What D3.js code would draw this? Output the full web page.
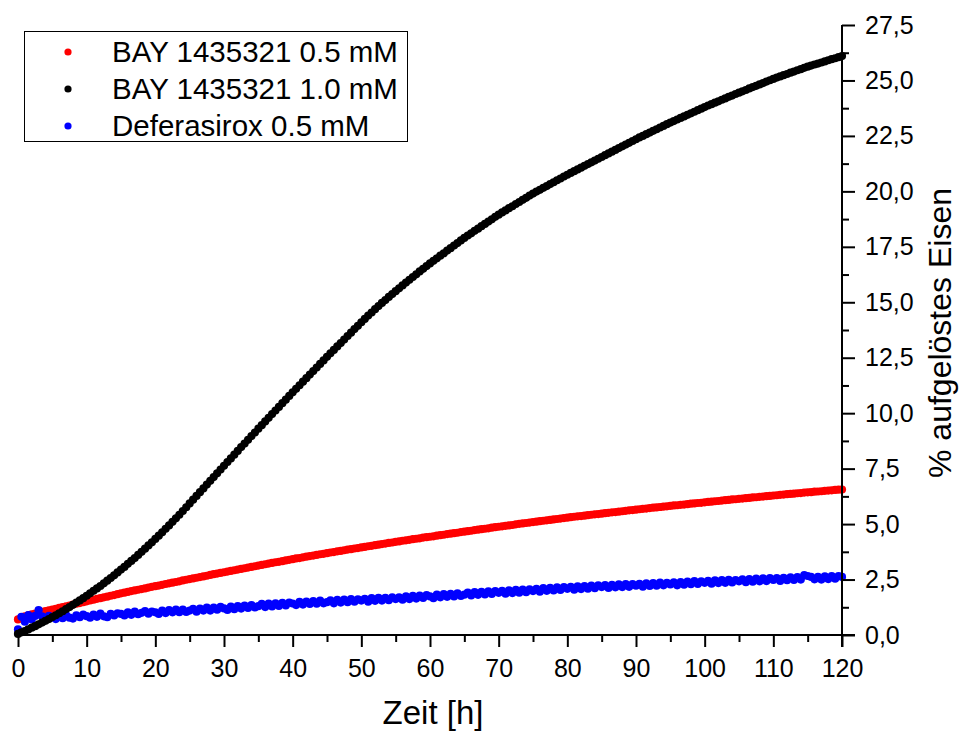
<!DOCTYPE html>
<html>
<head>
<meta charset="utf-8">
<script src="https://cdn.jsdelivr.net/npm/d3@7"></script>
<style>
  html, body { margin: 0; padding: 0; background: #fff; }
  svg { display: block; }
  text { font-family: "Liberation Sans", Arial, sans-serif; fill: #000; }
</style>
</head>
<body>
<svg id="chart" width="959" height="731"></svg>
<script>
// ---- Data ----
// sampling times: every 0.5 h from 0 to 120 h
const times = d3.range(0, 120.5, 0.5);

const seriesNames = ["BAY 1435321 0.5 mM", "BAY 1435321 1.0 mM", "Deferasirox 0.5 mM"];
const seriesColors = ["#ff0000", "#000000", "#0000ff"];

const bay05 = [
  0.70,0.78,0.84,0.89,0.93,0.97,1.01,1.04,1.08,1.11,
  1.15,1.18,1.22,1.26,1.29,1.33,1.37,1.41,1.44,1.48,
  1.52,1.56,1.59,1.63,1.66,1.70,1.73,1.77,1.80,1.84,
  1.88,1.91,1.94,1.98,2.01,2.04,2.07,2.10,2.14,2.17,
  2.20,2.23,2.26,2.30,2.33,2.36,2.39,2.42,2.46,2.49,
  2.52,2.55,2.58,2.61,2.64,2.67,2.71,2.74,2.77,2.80,
  2.83,2.86,2.89,2.92,2.95,2.98,3.01,3.04,3.07,3.10,
  3.13,3.16,3.19,3.22,3.25,3.28,3.30,3.33,3.36,3.39,
  3.42,3.45,3.47,3.50,3.53,3.56,3.58,3.61,3.64,3.66,
  3.69,3.72,3.74,3.77,3.79,3.82,3.85,3.87,3.90,3.92,
  3.95,3.97,4.00,4.02,4.05,4.07,4.10,4.12,4.15,4.17,
  4.20,4.22,4.25,4.27,4.29,4.32,4.34,4.36,4.39,4.41,
  4.43,4.45,4.48,4.50,4.52,4.55,4.57,4.59,4.61,4.64,
  4.66,4.68,4.70,4.73,4.75,4.77,4.79,4.81,4.84,4.86,
  4.88,4.90,4.92,4.94,4.96,4.99,5.01,5.03,5.05,5.07,
  5.09,5.11,5.13,5.15,5.17,5.19,5.21,5.23,5.25,5.27,
  5.29,5.31,5.33,5.35,5.36,5.38,5.40,5.42,5.44,5.45,
  5.47,5.49,5.51,5.53,5.54,5.56,5.58,5.60,5.62,5.63,
  5.65,5.67,5.69,5.70,5.72,5.74,5.75,5.77,5.79,5.80,
  5.82,5.84,5.85,5.87,5.88,5.90,5.92,5.93,5.95,5.96,
  5.98,6.00,6.01,6.03,6.04,6.06,6.08,6.09,6.11,6.12,
  6.14,6.15,6.17,6.18,6.20,6.21,6.23,6.24,6.26,6.27,
  6.29,6.30,6.32,6.33,6.35,6.36,6.37,6.39,6.40,6.42,
  6.43,6.44,6.46,6.47,6.48,6.50,6.51,6.52,6.54,6.55,
  6.56
];

const bay10 = [
  0.05,0.12,0.18,0.25,0.33,0.40,0.48,0.56,0.64,0.72,
  0.81,0.89,0.98,1.07,1.17,1.26,1.36,1.46,1.56,1.66,
  1.77,1.88,1.99,2.10,2.21,2.33,2.45,2.57,2.69,2.82,
  2.95,3.07,3.21,3.34,3.47,3.61,3.75,3.89,4.04,4.18,
  4.33,4.48,4.63,4.79,4.94,5.10,5.26,5.42,5.59,5.76,
  5.93,6.10,6.27,6.44,6.61,6.78,6.95,7.12,7.29,7.46,
  7.63,7.80,7.96,8.13,8.30,8.47,8.63,8.80,8.97,9.13,
  9.30,9.46,9.63,9.79,9.96,10.12,10.28,10.45,10.61,10.78,
  10.94,11.10,11.26,11.42,11.58,11.74,11.90,12.06,12.22,12.38,
  12.54,12.70,12.85,13.01,13.16,13.32,13.48,13.63,13.79,13.94,
  14.10,14.25,14.40,14.54,14.69,14.83,14.97,15.10,15.24,15.37,
  15.50,15.63,15.76,15.89,16.01,16.14,16.26,16.39,16.51,16.63,
  16.75,16.87,16.98,17.10,17.21,17.33,17.44,17.56,17.67,17.79,
  17.90,18.01,18.11,18.22,18.32,18.43,18.53,18.64,18.74,18.85,
  18.95,19.05,19.14,19.24,19.33,19.43,19.52,19.62,19.71,19.81,
  19.90,19.99,20.07,20.16,20.24,20.33,20.41,20.50,20.58,20.67,
  20.75,20.83,20.91,20.99,21.07,21.15,21.23,21.31,21.39,21.47,
  21.55,21.63,21.71,21.79,21.87,21.95,22.03,22.11,22.19,22.27,
  22.35,22.43,22.50,22.58,22.65,22.73,22.80,22.88,22.95,23.03,
  23.10,23.17,23.24,23.31,23.38,23.45,23.52,23.59,23.66,23.73,
  23.80,23.87,23.93,24.00,24.06,24.13,24.19,24.26,24.32,24.39,
  24.45,24.51,24.57,24.64,24.70,24.76,24.82,24.88,24.95,25.01,
  25.07,25.13,25.18,25.24,25.29,25.35,25.40,25.46,25.51,25.57,
  25.62,25.67,25.72,25.76,25.81,25.86,25.91,25.96,26.00,26.05,
  26.10
];

const deferasirox05 = [
  0.25,0.82,0.60,0.90,0.70,0.86,1.12,0.84,0.74,0.86,
  0.80,0.72,0.88,0.76,0.90,0.78,0.74,0.89,0.80,0.92,
  0.85,0.78,0.92,0.82,0.96,0.84,0.80,0.95,0.88,0.98,
  0.95,0.88,1.02,0.91,1.05,0.94,1.00,1.08,0.96,1.06,
  1.02,0.95,1.10,0.99,1.12,1.02,1.14,1.03,1.15,1.04,
  1.10,1.18,1.05,1.19,1.10,1.23,1.10,1.24,1.14,1.27,
  1.20,1.13,1.28,1.16,1.30,1.19,1.33,1.22,1.35,1.24,
  1.30,1.40,1.26,1.41,1.29,1.43,1.31,1.45,1.33,1.46,
  1.42,1.35,1.50,1.37,1.51,1.40,1.53,1.41,1.55,1.43,
  1.48,1.56,1.43,1.59,1.46,1.60,1.48,1.62,1.50,1.61,
  1.55,1.63,1.50,1.66,1.54,1.68,1.55,1.67,1.57,1.70,
  1.62,1.70,1.59,1.74,1.62,1.76,1.64,1.78,1.67,1.80,
  1.74,1.66,1.82,1.70,1.84,1.72,1.86,1.74,1.88,1.76,
  1.82,1.91,1.78,1.93,1.81,1.95,1.83,1.97,1.85,1.98,
  1.90,1.99,1.86,2.01,1.89,2.03,1.91,2.05,1.93,2.06,
  1.98,2.08,1.95,2.11,1.99,2.13,2.01,2.15,2.03,2.16,
  2.08,2.17,2.04,2.19,2.07,2.21,2.09,2.23,2.11,2.24,
  2.16,2.25,2.12,2.26,2.15,2.28,2.16,2.30,2.17,2.29,
  2.22,2.31,2.18,2.33,2.21,2.34,2.22,2.36,2.24,2.35,
  2.28,2.37,2.24,2.39,2.27,2.41,2.29,2.43,2.30,2.42,
  2.35,2.44,2.31,2.46,2.34,2.47,2.35,2.49,2.37,2.48,
  2.42,2.51,2.38,2.52,2.40,2.54,2.42,2.55,2.43,2.56,
  2.48,2.57,2.44,2.58,2.47,2.60,2.48,2.61,2.50,2.70,
  2.66,2.62,2.51,2.62,2.50,2.64,2.52,2.65,2.54,2.66,
  2.62
];

const xMajorTicks = [0,10,20,30,40,50,60,70,80,90,100,110,120];
const xMinorTicks = [5,15,25,35,45,55,65,75,85,95,105,115];
const yMajorTicks = [0,2.5,5,7.5,10,12.5,15,17.5,20,22.5,25,27.5];
const yMinorTicks = [1.25,3.75,6.25,8.75,11.25,13.75,16.25,18.75,21.25,23.75,26.25];

const xTitle = "Zeit [h]";
const yTitle = "% aufgelöstes Eisen";

// ---- Drawing ----
const svg = d3.select("#chart");
const x = d3.scaleLinear().domain([0, 120]).range([18, 842]);
const y = d3.scaleLinear().domain([0, 27.5]).range([635, 25]);

const deLocale = d3.formatLocale({decimal: ",", thousands: ".", grouping: [3], currency: ["", " €"]});
const yFmt = deLocale.format(".1f");
const dotR = 4.1;

// series (red first, blue, black on top)
const series = [
  {name: seriesNames[0], color: seriesColors[0], values: bay05},
  {name: seriesNames[2], color: seriesColors[2], values: deferasirox05},
  {name: seriesNames[1], color: seriesColors[1], values: bay10}
];
series.forEach(s => {
  svg.append("g")
    .attr("fill", s.color)
    .selectAll("circle")
    .data(times.map((t, i) => ({t, v: s.values[i]})))
    .join("circle")
    .attr("cx", d => x(d.t))
    .attr("cy", d => y(d.v))
    .attr("r", dotR);
});

// X axis
const gx = svg.append("g").attr("transform", `translate(0,${y(0)})`);
gx.call(d3.axisBottom(x).tickValues(xMajorTicks).tickSize(12).tickPadding(12).tickSizeOuter(0));
const gxMinor = svg.append("g").attr("transform", `translate(0,${y(0)})`);
gxMinor.call(d3.axisBottom(x).tickValues(xMinorTicks).tickSize(7).tickFormat("").tickSizeOuter(0));
gxMinor.select(".domain").remove();
gx.select(".domain").remove();

// Y axis (right)
const gy = svg.append("g").attr("transform", `translate(${x(120)},0)`);
gy.call(d3.axisRight(y).tickValues(yMajorTicks).tickSize(13).tickPadding(10).tickFormat(yFmt).tickSizeOuter(0));
const gyMinor = svg.append("g").attr("transform", `translate(${x(120)},0)`);
gyMinor.call(d3.axisRight(y).tickValues(yMinorTicks).tickSize(7).tickFormat("").tickSizeOuter(0));
gyMinor.select(".domain").remove();
gy.select(".domain").remove();

svg.selectAll(".tick line").attr("stroke", "#000").attr("stroke-width", 2);
gx.selectAll(".tick text").attr("font-size", 25).attr("font-family", "Liberation Sans, Arial, sans-serif");
gy.selectAll(".tick text").attr("font-size", 25).attr("font-family", "Liberation Sans, Arial, sans-serif");

// axis lines
svg.append("line")
  .attr("x1", x(0) - 1).attr("x2", x(120) + 13)
  .attr("y1", y(0)).attr("y2", y(0))
  .attr("stroke", "#000").attr("stroke-width", 2);
svg.append("line")
  .attr("x1", x(120)).attr("x2", x(120))
  .attr("y1", y(27.5)).attr("y2", y(0) + 12)
  .attr("stroke", "#000").attr("stroke-width", 2);

// titles
svg.append("text")
  .attr("x", (x(0) + x(120)) / 2 + 3)
  .attr("y", 724)
  .attr("text-anchor", "middle")
  .attr("font-size", 33)
  .text(xTitle);

svg.append("text")
  .attr("transform", `translate(951,${(y(0) + y(27.5)) / 2 + 3}) rotate(-90)`)
  .attr("text-anchor", "middle")
  .attr("font-size", 32)
  .text(yTitle);

// legend
const legend = svg.append("g");
legend.append("rect")
  .attr("x", 24.5).attr("y", 31.5)
  .attr("width", 383).attr("height", 110)
  .attr("fill", "#fff").attr("stroke", "#000").attr("stroke-width", 1);
seriesNames.forEach((name, i) => {
  const cy = 52 + i * 37;
  legend.append("circle").attr("cx", 68).attr("cy", cy).attr("r", 3.6).attr("fill", seriesColors[i]);
  legend.append("text").attr("x", 112).attr("y", cy + 10).attr("font-size", 29.5).text(name);
});
</script>
</body>
</html>
